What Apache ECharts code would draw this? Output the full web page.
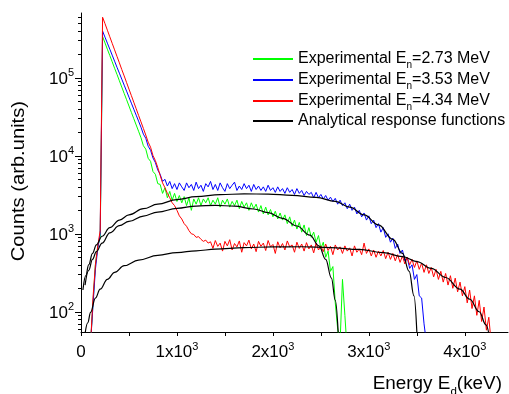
<!DOCTYPE html>
<html>
<head>
<meta charset="utf-8">
<script src="https://cdn.jsdelivr.net/npm/echarts@6.0.0/dist/echarts.min.js"></script>
<style>
  html, body { margin: 0; padding: 0; background: #fff; }
  #chart { width: 509px; height: 394px; }
</style>
</head>
<body>
<div id="chart"></div>
<script>
// spectra are stored per channel: E = channelStart + i * channelWidth (keV)
const channelStart = 100;
const channelWidth = 25;

const green273 = [
  // 100 - 800
  40, 130, 400, 700, 900, 339000, 281000, 233000, 194000, 161000, 133000, 111000, 91800, 76200, 63200, 52500,
  43600, 36100, 30000, 24900, 20700, 17100, 13500, 12200, 9300, 8500, 6300, 5800, 4400,
  // 825 - 2775
  4300, 3300, 3900, 2900, 3500, 2700, 3300, 2600, 3100, 2500, 3000, 2300, 2900, 2000, 2800, 2400,
  2900, 2300, 2800, 2500, 2900, 2300, 2700, 2400, 2900, 2200, 2700, 2400, 2800, 2200, 2600, 2300,
  2700, 2100, 2600, 2200, 2500, 2000, 2500, 2100, 2400, 1900, 2300, 1800, 2200, 1750, 2050, 1650,
  1950, 1550, 1850, 1500, 1750, 1350, 1650, 1250, 1500, 1150, 1400, 1050, 1300, 950, 1200, 900,
  1050, 780, 950, 650, 780, 500, 600, 330, 380, 130, 60, 40, 260, 90, 30
];

const blue353 = [
  // 100 - 800
  40, 120, 350, 650, 1000, 398000, 333000, 279000, 234000, 196000, 164000, 137000, 115000, 96400, 80700, 67600,
  56600, 47400, 39700, 33300, 27900, 23300, 19000, 16800, 13300, 11800, 9400, 8200, 6600,
  // 825 - 3600
  5800, 4700, 5000, 4100, 4700, 3800, 4400, 3700, 4500, 4000, 3600, 4500, 3900, 4300, 3600, 4600,
  3800, 4200, 3500, 4400, 4000, 4700, 3700, 4300, 3600, 4500, 3900, 3500, 4400, 3800, 4200, 4600,
  3600, 4100, 3700, 4400, 3800, 4200, 3500, 4300, 3700, 4100, 3600, 4000, 3500, 4200, 3600, 3900,
  3400, 4000, 3500, 3800, 3300, 3900, 3400, 3700, 3200, 3800, 3300, 3600, 3100, 3500, 3200, 3400,
  2900, 3400, 2900, 3200, 2800, 3100, 2700, 2950, 2600, 2850, 2400, 2700, 2300, 2500, 2100, 2400,
  2000, 2200, 1800, 2000, 1650, 1850, 1500, 1700, 1350, 1500, 1200, 1350, 1050, 1200, 900, 1000,
  780, 880, 650, 740, 560, 620, 450, 500, 360, 400, 260, 300, 160, 150, 70, 40
];

const red434 = [
  // 100 - 800
  40, 150, 400, 700, 1100, 600000, 497000, 409000, 337000, 278000, 229000, 189000, 156000, 128000, 106000, 87100,
  71800, 59200, 48800, 40200, 33100, 27300, 22500, 18500, 15000, 12900, 10100, 8700, 7100,
  // 825 - 1350
  5600, 4500, 3900, 3300, 2900, 2500, 2300, 2000, 1700, 1550, 1350, 1250, 1100, 1000, 980, 900,
  920, 850, 800, 830, 760, 790,
  // 1375 - 4275
  650, 820, 690, 760, 600, 800, 700, 840, 620, 750, 680, 810, 580, 770, 700, 830,
  640, 740, 590, 800, 690, 760, 610, 820, 680, 730, 560, 790, 660, 750, 620, 810,
  680, 720, 580, 780, 650, 740, 600, 770, 640, 720, 570, 760, 620, 700, 590, 740,
  610, 690, 540, 720, 620, 680, 560, 700, 600, 660, 520, 700, 580, 640, 540, 760,
  560, 640, 520, 620, 500, 600, 520, 610, 480, 580, 470, 560, 450, 540, 430, 520,
  410, 500, 400, 470, 370, 450, 350, 420, 320, 400, 310, 370, 280, 350, 260, 330,
  240, 310, 220, 290, 200, 270, 180, 240, 160, 210, 130, 190, 110, 160, 90, 140,
  75, 115, 58, 85, 40
];

// analytical response functions, [E (keV), counts]
const fit273 = [
  [42, 220], [80, 340], [120, 470], [160, 590], [220, 760], [300, 1030], [400, 1270], [500, 1440],
  [650, 1690], [800, 1900], [1000, 2120], [1200, 2270], [1400, 2320], [1600, 2260], [1800, 2080],
  [1950, 1870], [2100, 1580], [2250, 1260], [2385, 960], [2480, 700], [2550, 470], [2610, 270],
  [2650, 140], [2680, 55]
];
const fit353 = [
  [20, 190], [50, 290], [80, 400], [120, 560], [160, 720], [220, 930], [300, 1200], [400, 1500],
  [500, 1750], [650, 2100], [800, 2400], [1000, 2750], [1200, 3000], [1450, 3180], [1700, 3250],
  [1950, 3230], [2200, 3120], [2450, 2930], [2650, 2600], [2800, 2200], [2950, 1750], [3100, 1300],
  [3250, 850], [3350, 560], [3420, 330], [3470, 160], [3500, 55]
];
const fit434 = [
  [40, 50], [70, 72], [100, 98], [150, 150], [200, 195], [275, 260], [350, 320], [450, 390],
  [600, 460], [800, 530], [1000, 575], [1200, 605], [1400, 635], [1700, 665], [2000, 680],
  [2300, 682], [2600, 665], [2900, 630], [3150, 575], [3350, 510], [3500, 440], [3650, 360],
  [3800, 275], [3950, 195], [4050, 145], [4150, 100], [4220, 68], [4260, 45]
];

const xLabelValues = [0, 1000, 2000, 3000, 4000];
const xTickValues = [0, 500, 1000, 1500, 2000, 2500, 3000, 3500, 4000];
const yLabelValues = [100, 1000, 10000, 100000];
const yMinorMantissa = [2, 3, 4, 5, 6, 7, 8, 9];

const names = {
  green: 'Experimental En=2.73 MeV',
  blue: 'Experimental En=3.53 MeV',
  red: 'Experimental En=4.34 MeV',
  fit: 'Analytical response functions'
};
const legendOrder = [names.green, names.blue, names.red, names.fit];

const font = 'Liberation Sans';

let yMinorTicks = [60, 70, 80, 90];
yLabelValues.forEach(function (p) {
  yMinorMantissa.forEach(function (m) {
    if (m * p < 680000) yMinorTicks.push(m * p);
  });
});

function toPairs(counts) {
  return counts.map(function (c, i) { return [channelStart + i * channelWidth, c]; });
}

function expSeries(name, color, counts) {
  return {
    type: 'line', name: name, data: toPairs(counts),
    symbol: 'none', lineStyle: { color: color, width: 1 }, itemStyle: { color: color },
    animation: false, z: 2
  };
}

function fitSeries(data) {
  return {
    type: 'line', name: names.fit, data: data,
    symbol: 'none', smooth: 0.4, smoothMonotone: 'x',
    lineStyle: { color: '#000', width: 1.2 }, itemStyle: { color: '#000' },
    animation: false, z: 3
  };
}

// one legend per row so the subscript can't disturb the row pitch
function legendRow(name, i) {
  const hasSub = name.indexOf('En=') > -1;
  return {
    orient: 'vertical', left: 252, top: 48 + i * 21 + (hasSub ? 0 : 2), padding: 0,
    itemWidth: 40, itemHeight: 14,
    itemStyle: { opacity: 0 },
    data: [name],
    formatter: function (n) {
      return n.replace('En=', 'E{sub|n}=');
    },
    textStyle: {
      fontFamily: font, fontSize: 16, color: '#000', lineHeight: 16,
      rich: {
        sub: { fontFamily: font, fontSize: 10, color: '#000', lineHeight: 2, padding: [12, 0, 0, 0] }
      }
    }
  };
}

const supRich = {
  b: { fontFamily: font, fontSize: 17, color: '#000', lineHeight: 20, verticalAlign: 'bottom' },
  s: { fontFamily: font, fontSize: 11, color: '#000', lineHeight: 11, verticalAlign: 'top' }
};

const chart = echarts.init(document.getElementById('chart'));
chart.setOption({
  animation: false,
  backgroundColor: '#fff',
  grid: { left: 81, right: 1, top: 13, bottom: 62 },
  legend: legendOrder.map(legendRow),
  xAxis: {
    type: 'value', min: 0, max: 4450,
    axisLine: { lineStyle: { color: '#000', width: 1 } },
    axisTick: { length: 4, lineStyle: { color: '#000' }, customValues: xTickValues },
    splitLine: { show: false },
    axisLabel: {
      customValues: xLabelValues, margin: 9,
      formatter: function (v) {
        if (v === 0) return '{b|0}';
        return '{b|' + (v / 1000) + 'x10}{s|3}';
      },
      rich: supRich
    }
  },
  yAxis: [{
    type: 'log', logBase: 10, min: 55, max: 680000,
    axisLine: { show: true, lineStyle: { color: '#000', width: 1 } },
    axisTick: { length: 6, lineStyle: { color: '#000' }, customValues: yLabelValues },
    splitLine: { show: false },
    axisLabel: {
      customValues: yLabelValues, margin: 7,
      formatter: function (v) {
        return '{b|10}{s|' + Math.round(Math.log10(v)) + '}';
      },
      rich: supRich
    }
  }, {
    type: 'log', logBase: 10, min: 55, max: 680000, position: 'left',
    axisLine: { show: false },
    axisTick: { length: 3, lineStyle: { color: '#000' }, customValues: yMinorTicks },
    axisLabel: { show: false },
    splitLine: { show: false }
  }],
  graphic: [{
    type: 'text', left: 10, top: 101, rotation: Math.PI / 2, scaleX: 1.12,
    style: { text: 'Counts (arb.units)', font: '18px "Liberation Sans"', fill: '#000' }
  }, {
    type: 'text', right: 7, top: 372, scaleX: 1.05,
    style: {
      text: '{b|Energy E}{d|d}{b|(keV)}', fill: '#000',
      rich: {
        b: { fontFamily: font, fontSize: 18, lineHeight: 20 },
        d: { fontFamily: font, fontSize: 11, lineHeight: 2, padding: [14, 0, 0, 0] }
      }
    }
  }],
  series: [
    expSeries(names.green, '#00ff00', green273),
    expSeries(names.blue, '#0000ff', blue353),
    expSeries(names.red, '#ff0000', red434),
    fitSeries(fit273),
    fitSeries(fit353),
    fitSeries(fit434)
  ]
});
</script>
</body>
</html>
